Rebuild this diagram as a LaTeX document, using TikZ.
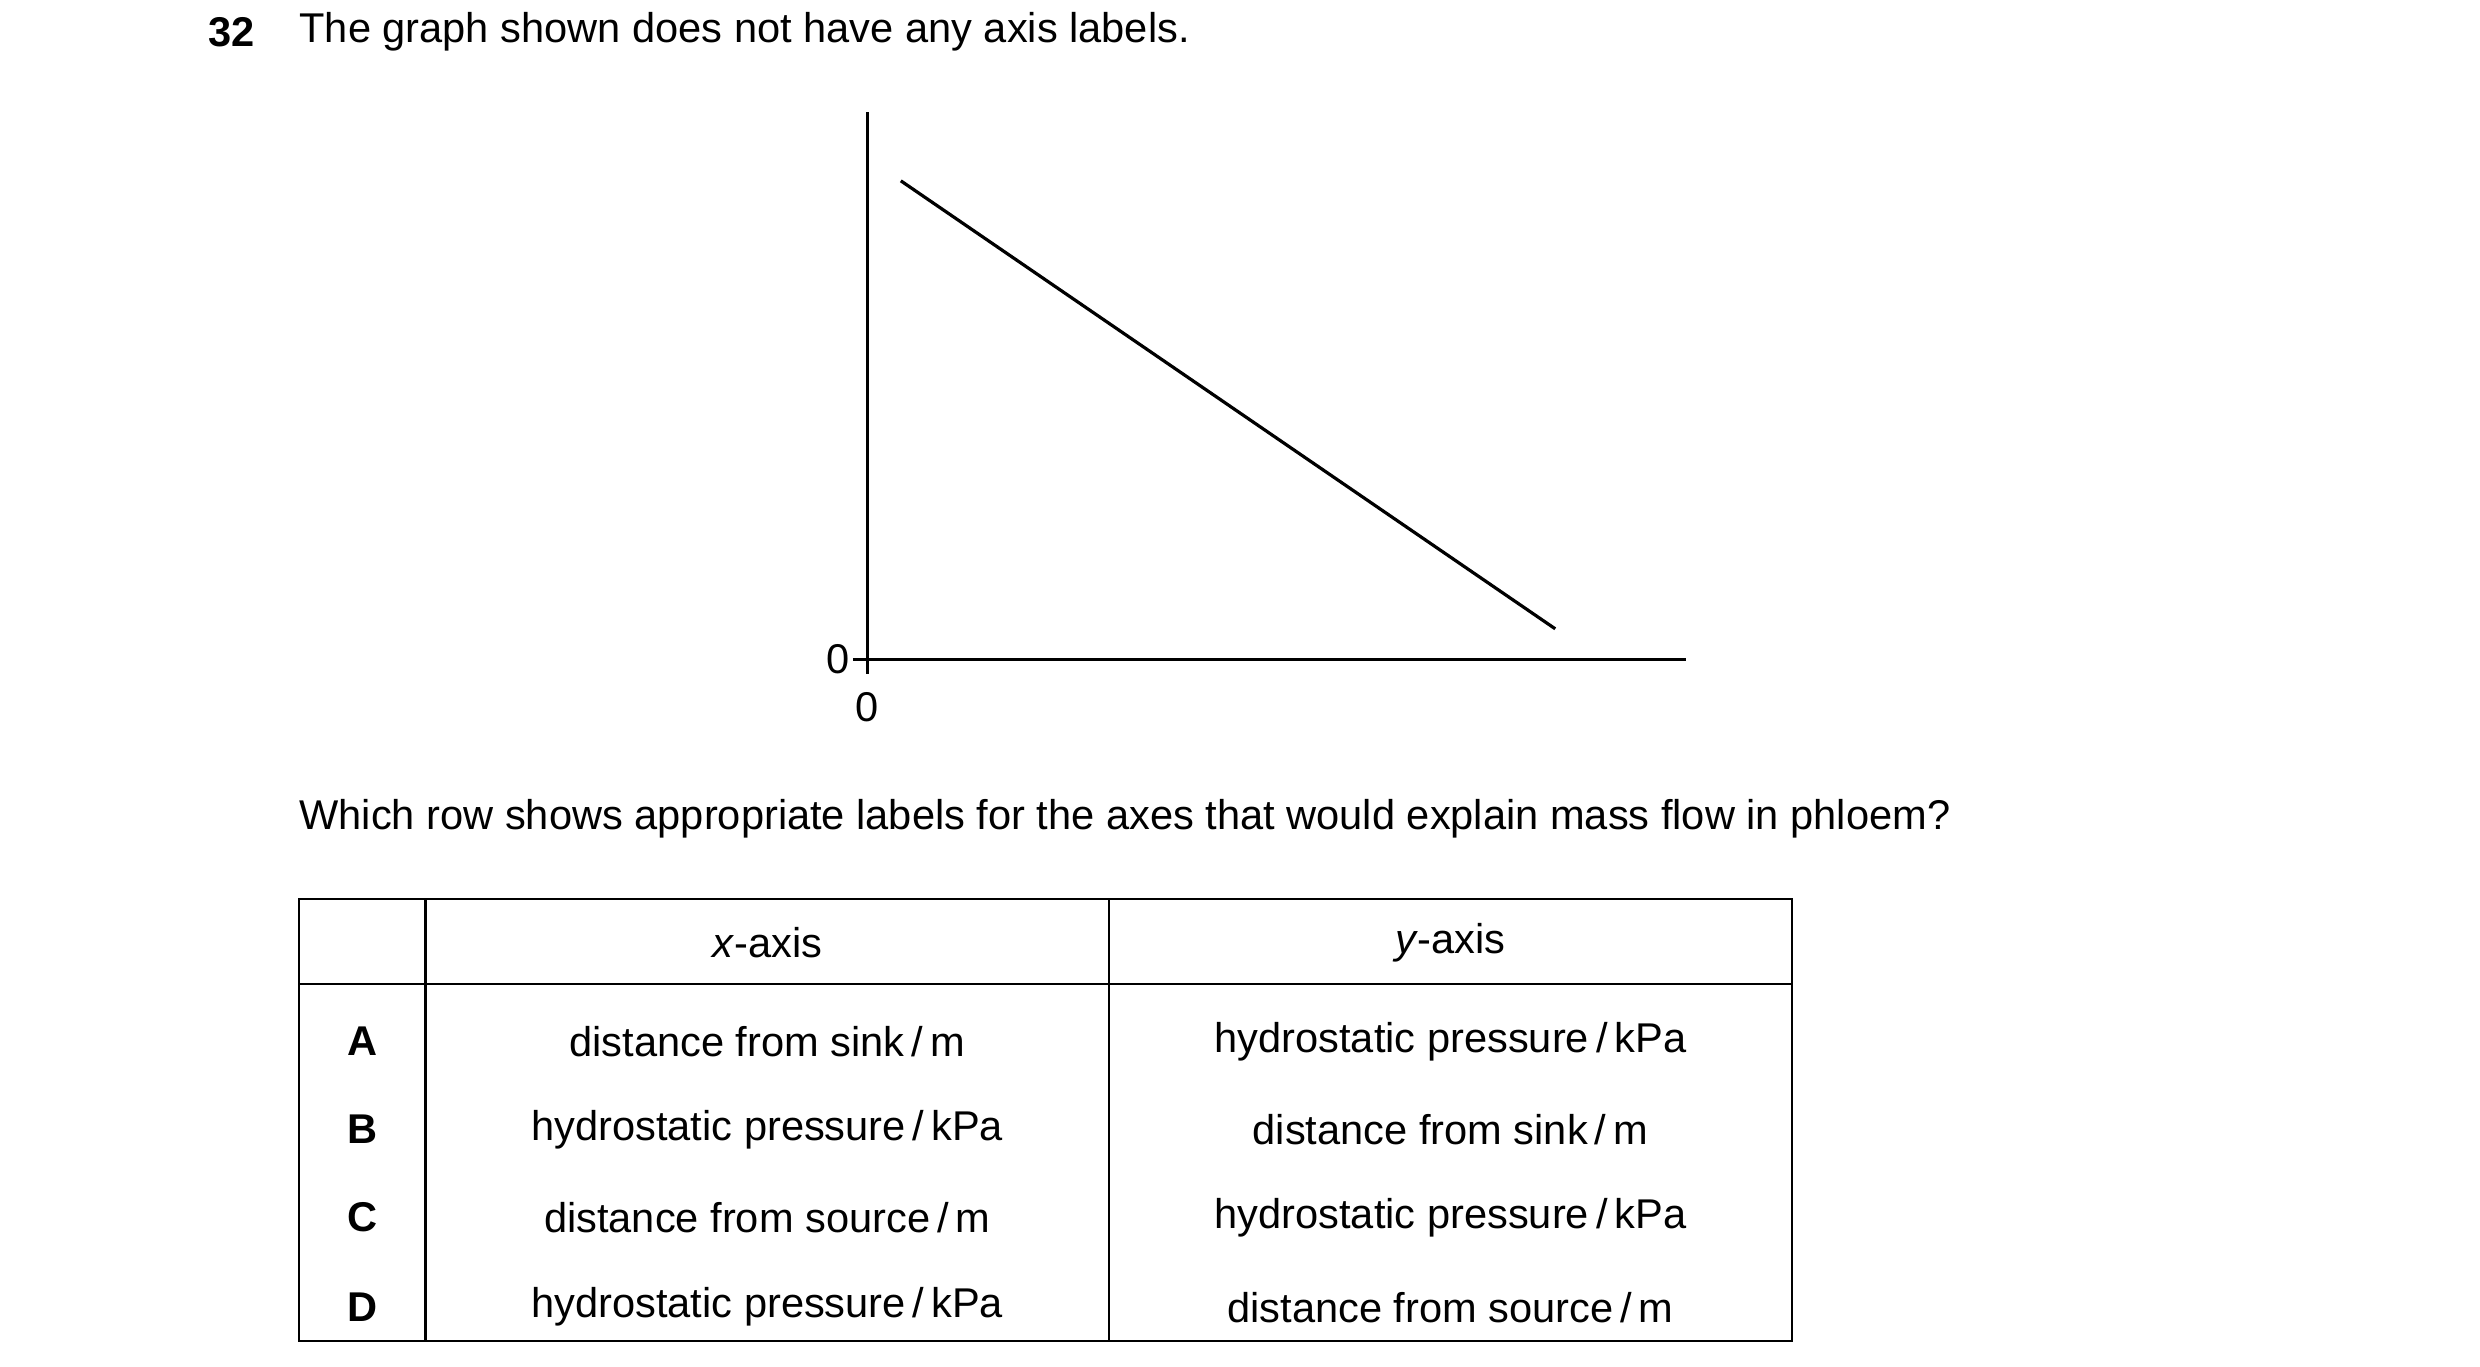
\documentclass[tikz,border=0pt]{standalone}
\usepackage{fontspec}
\setmainfont{Liberation Sans}
\begin{document}
\begin{tikzpicture}[x=1pt,y=-1pt,
  txt/.style={inner sep=0pt,font=\fontsize{26}{30}\selectfont},
  ln/.style={line width=2pt}]
\useasboundingbox (0,0) rectangle (1550,854);
\node[txt,anchor=west] (num) at (130,20) {\textbf{32}};
\node[txt,anchor=west] (q1) at (187,20) {The graph shown does not have any axis labels.};
% axes
\coordinate (ytop) at (542,70);
\coordinate (o) at (542,412);
\coordinate (xend) at (1054,412);
\draw[ln] (ytop) -- (o) -- (xend);
\coordinate (tl) at (533,412);
\coordinate (tb) at (542,421);
\draw[ln] (tl) -- (o) (o) -- (tb);
\node[txt,anchor=east] (y0) at (531,412) {0};
\node[txt] (x0) at (542,442) {0};
\coordinate (a) at (563,113);
\coordinate (b) at (972,393);
\draw[ln] (a) -- (b);
\node[txt,anchor=west] (q2) at (187,512) {Which row shows appropriate labels for the axes that would explain mass flow in phloem?};
% table
\draw[line width=1.6pt] (187,562) rectangle (1120,838);
\draw[line width=1.6pt] (187,615) -- (1120,615) (266,562) -- (266,838) (693,562) -- (693,838);
\node[txt] (hx) at (479.5,589) {\textit{x}-axis};
\node[txt] (hy) at (906.5,589) {\textit{y}-axis};
\foreach \l/\x/\y/\yy in {A/{distance from sink\,/\,m}/{hydrostatic pressure\,/\,kPa}/651,
  B/{hydrostatic pressure\,/\,kPa}/{distance from sink\,/\,m}/706,
  C/{distance from source\,/\,m}/{hydrostatic pressure\,/\,kPa}/761,
  D/{hydrostatic pressure\,/\,kPa}/{distance from source\,/\,m}/817}{
  \node[txt] (r\l) at (226.5,\yy) {\textbf{\l}};
  \node[txt] (x\l) at (479.5,\yy) {\x};
  \node[txt] (y\l) at (906.5,\yy) {\y};
}
\end{tikzpicture}
\end{document}
